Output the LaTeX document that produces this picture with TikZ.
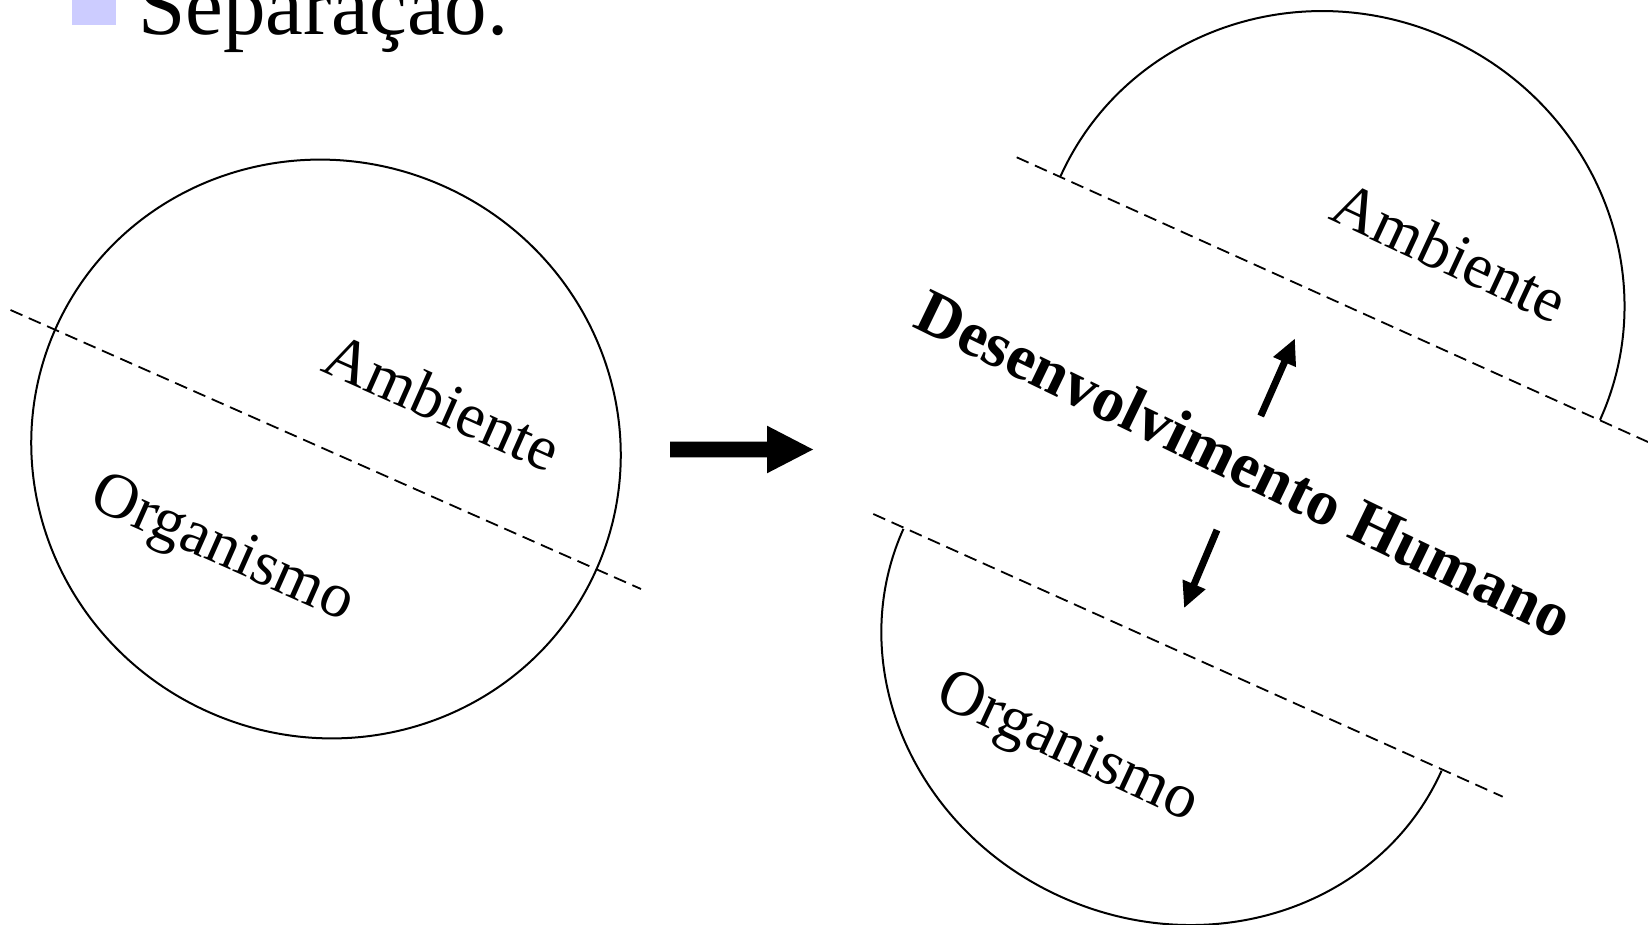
\documentclass[tikz,border=0pt]{standalone}
\usepackage{fontspec}
\setmainfont{Liberation Serif}
\usetikzlibrary{arrows.meta}
\definecolor{bulletblue}{HTML}{CCCCFF}
\begin{document}
\begin{tikzpicture}[x=1pt,y=-1pt,
  outline/.style={line width=2pt},
  divider/.style={line width=1.8pt, dash pattern=on 13pt off 7pt},
  label/.style={font=\fontsize{63.5}{76}\selectfont, inner sep=0pt},
  boldlabel/.style={font=\fontsize{64}{77}\selectfont\bfseries, inner sep=0pt},
  pointer/.style={line width=7pt, -{Triangle[length=26pt,width=23pt]}}]
\useasboundingbox (0,0) rectangle (1648,925);

% heading with its bullet
\fill[bulletblue] (72,-19) rectangle (116,25);
\node[font=\fontsize{85}{100}\selectfont, inner sep=0pt, anchor=base west] (title) at (138,34.6) {Separação.};

% ---- whole organism/environment circle ----
\draw[outline, rotate around={-24:(326,449)}] (326,449) ellipse [x radius=296pt, y radius=288pt];
\coordinate (ls) at (10.5,310);
\coordinate (le) at (641,589);
\draw[divider] (ls) -- (le);
\node[label, rotate=-24] (amb1) at (443,402) {Ambiente};
\node[label, rotate=-24] (org1) at (221.5,551) {Organismo};

% ---- block arrow ----
\fill (670,441.7) -- (767,441.7) -- (767,425.7) -- (813,449.5) -- (767,473.3) -- (767,457.3) -- (670,457.3) -- cycle;

% ---- separated halves ----
\begin{scope}[shift={(1330.3,298)}, rotate=-24.3]
  \draw[outline] (-296,0) arc[start angle=180, end angle=0, x radius=296pt, y radius=285pt];
\end{scope}
\begin{scope}[shift={(1172.5,649.8)}, rotate=-24.2]
  \draw[outline] (-295,0) arc[start angle=180, end angle=360, x radius=295pt, y radius=271pt];
\end{scope}

\coordinate (us) at (1016.7,157.3);
\coordinate (ue) at (1652,443.8);
\draw[divider] (us) -- (ue);
\coordinate (bs) at (873.3,514);
\coordinate (be) at (1502.7,796.7);
\draw[divider] (bs) -- (be);

\node[label, rotate=-25] (amb2) at (1450,252) {Ambiente};
\node[label, rotate=-25] (org2) at (1067,750) {Organismo};
\node[boldlabel, rotate=-25.8] (dh) at (1245,464) {Desenvolvimento Humano};

% arrows out of the central band
\coordinate (upfrom) at (1260.7,416);
\coordinate (upto) at (1295,338.3);
\coordinate (dnfrom) at (1217,530);
\coordinate (dnto) at (1184,608.3);
\draw[pointer] (upfrom) -- (upto);
\draw[pointer] (dnfrom) -- (dnto);
\end{tikzpicture}
\end{document}
